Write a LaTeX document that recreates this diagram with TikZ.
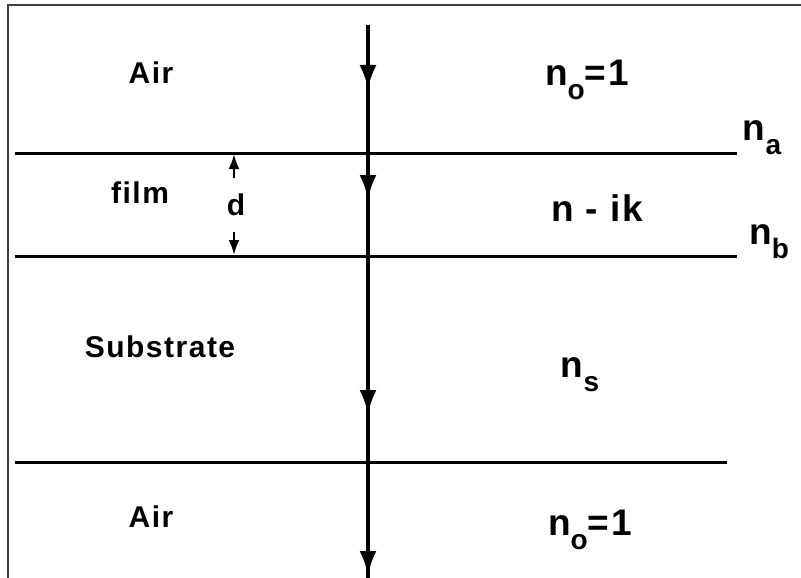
\documentclass[tikz,border=0pt]{standalone}
\usepackage{fontspec}
\setmainfont{Liberation Sans}
\newfontfamily\widesans[LetterSpace=5]{Liberation Sans}
\usetikzlibrary{arrows.meta}
\usetikzlibrary{decorations.markings}

% lowered subscript in text font
\newcommand{\lowsub}[1]{\raisebox{-.38em}{\fontsize{28}{28}\selectfont #1}}

\tikzset{
  lbl/.style={font=\fontsize{30}{34}\widesans\bfseries},
  idx/.style={font=\fontsize{37}{42}\widesans\bfseries},
  iface/.style={line width=3pt},
  ray/.style={line width=3.2pt,postaction={decorate},
    decoration={markings,
      mark=at position 64pt with {\arrow{Latex[length=24pt,width=17pt]}},
      mark=at position 174pt with {\arrow{Latex[length=24pt,width=17pt]}},
      mark=at position 389pt with {\arrow{Latex[length=24pt,width=17pt]}},
      mark=at position 550pt with {\arrow{Latex[length=24pt,width=17pt]}}}},
  gap/.style={line width=2.6pt,-{Latex[length=15pt,width=11pt]}}
}

\begin{document}
\begin{tikzpicture}[x=1pt,y=-1pt]
		\useasboundingbox (0,0) rectangle (801,578);
		
		% Frame (only left and top edges show)
		\draw[line width=2.4pt,black!75] (8,582) -- (8,5) -- (805,5);
		
		% Interfaces
		\coordinate (a1) at (15,153);  \coordinate (a2) at (737,153);
		\coordinate (b1) at (15,256);  \coordinate (b2) at (737,256);
		\coordinate (s1) at (15,462);  \coordinate (s2) at (727,462);
		\draw[iface] (a1) -- (a2);
		\draw[iface] (b1) -- (b2);
		\draw[iface] (s1) -- (s2);
		
		% Ray through the stack
		\coordinate (top) at (368,25);
		\coordinate (bot) at (368,578);
		\draw[ray] (top) -- (bot);
		
		% Film thickness
		\coordinate (dtop) at (234,154);
		\coordinate (dbot) at (234,255);
		\draw[gap] (234,178) -- (dtop);
		\draw[gap] (234,232) -- (dbot);
		\node[lbl] (d) at (236,205) {d};
		
		% Media
		\node[lbl] (air1) at (151,73) {Air};
		\node[lbl] (film) at (140,193) {film};
		\node[lbl] (sub) at (160,347) {Substrate};
		\node[lbl] (air2) at (151,517) {Air};
		
		% Indices
		\node[idx] (n0) at (587,80) {n\lowsub{o}=1};
		\node[idx] (nik) at (597,208) {n - ik};
		\node[idx] (ns) at (580,375) {n\lowsub{s}};
		\node[idx] (n0b) at (590,530) {n\lowsub{o}=1};
		\node[idx] (na) at (762,138) {n\lowsub{a}};
		\node[idx] (nb) at (769,242) {n\lowsub{b}};
	\end{tikzpicture}
\end{document}
